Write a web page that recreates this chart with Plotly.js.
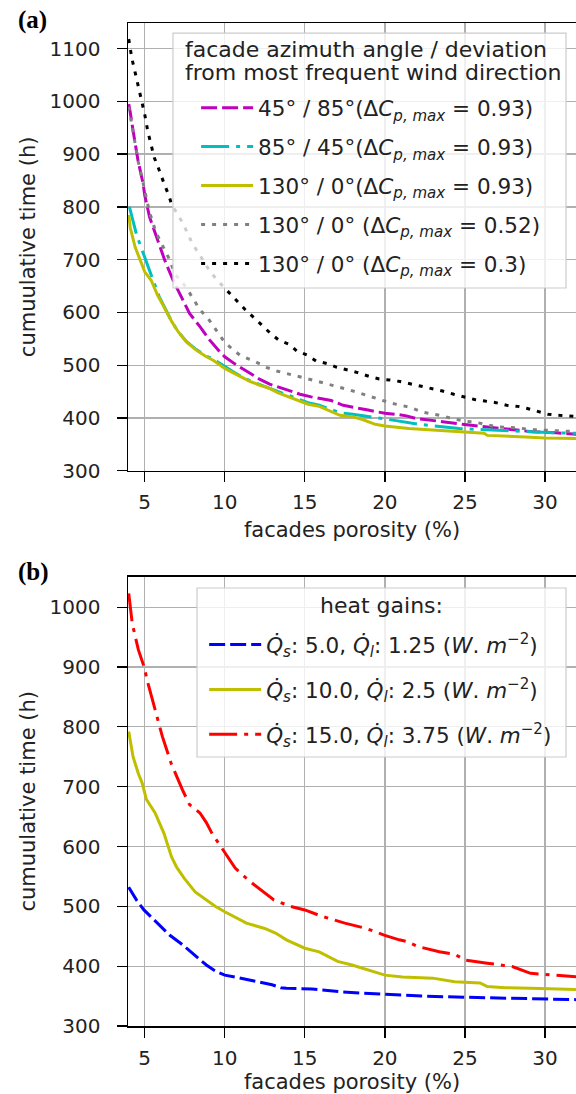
<!DOCTYPE html>
<html>
<head>
<meta charset="utf-8">
<script src="https://cdn.plot.ly/plotly-3.0.1.min.js"></script>
<style>html,body{margin:0;padding:0;background:#fff;overflow:hidden;}#chart{width:576px;height:1094px;}</style>
</head>
<body>
<div id="chart"></div>
<script>
// ---------- Panel (a): facade azimuth / deviation ----------
const xA_45_85 = [4.0,4.06,4.27,4.58,4.9,5.0,5.3,5.73,6.25,6.77,7.3,7.8,8.45,9.05,9.7,10.0,10.6,11.1,11.65,12.2,12.8,13.45,14.05,14.7,15.4,16.05,16.65,17.4,18.2,18.95,19.45,20.0,20.7,21.35,21.95,22.6,23.6,24.85,26.3,27.8,29.2,30.7,32.0];
const yA_45_85 = [995,986,945,888,844,822,781,743,699,661,630,598,573,548,525,516,503,494,484,473,464,458,451,445,440,437,433,424,420,415,412,409,407,404,399,397,393,388,383,378,374,372,369];

const xA_85_45 = [4.0,4.06,4.5,4.8,5.2,5.6,5.9,6.3,6.7,7.1,7.6,8.2,8.8,9.3,10.0,10.5,11.0,11.6,12.2,12.8,13.3,14.3,15.2,15.9,16.7,17.2,18.0,18.7,19.45,20.7,22.15,23.5,24.65,26.0,27.35,29.2,30.5,32.0];
const yA_85_45 = [800,798,746,721,686,655,630,606,582,563,545,530,518,511,497,488,479,470,463,456,450,439,429,424,416,410,407,404,401,395,388,383,380,378,376,374,372,371];

const xA_130_093 = [4.0,4.1,4.4,4.7,5.0,5.4,5.8,6.25,6.7,7.1,7.6,8.2,8.8,9.3,10.0,10.5,11.0,11.6,12.2,12.8,13.3,14.3,15.2,15.9,16.7,17.2,18.0,18.6,19.4,20.0,21.5,22.5,23.5,24.6,25.5,26.2,26.4,27.5,28.8,30.0,32.0];
const yA_130_093 = [785,760,724,699,677,661,633,608,582,563,544,529,517,509,494,486,478,469,462,456,448,437,426,422,412,405,402,397,388,385,380,378,376,374,372,371,367,365,364,362,361];

const xA_130_052 = [4.0,4.3,4.6,4.9,5.3,5.7,6.15,6.5,6.9,7.4,7.8,8.45,8.95,9.5,10.0,10.5,10.95,11.95,12.6,13.25,13.85,14.5,15.2,15.85,16.5,17.15,17.8,18.45,19.1,19.75,20.4,21.0,21.6,22.35,23.0,23.6,24.3,25.0,25.65,26.3,27.0,27.7,28.4,29.1,29.85,30.7,32.0];
const yA_130_052 = [990,935,885,845,790,752,725,703,672,655,637,605,589,566,543,530,519,506,496,489,484,479,474,469,464,459,453,447,441,434,428,424,420,411,407,404,398,394,392,387,383,382,381,378,377,376,374];

const xA_130_03 = [4.0,4.2,4.4,4.6,4.8,5.0,5.2,5.4,5.6,5.8,6.0,6.25,6.5,6.7,7.1,7.45,7.7,8.0,8.35,8.7,9.05,9.5,10.0,10.5,10.85,11.35,11.9,12.4,12.9,13.4,14.0,14.5,15.15,15.7,16.4,17.0,17.65,18.3,19.0,19.65,20.3,20.95,21.7,22.3,23.0,23.6,24.3,24.95,25.6,26.25,26.95,27.6,28.3,28.9,29.6,30.2,30.9,32.0];
const yA_130_03 = [1118,1081,1055,1030,1001,975,942,915,893,878,860,841,822,803,784,765,748,729,713,696,679,662,646,630,617,603,588,573,559,547,540,527,519,508,503,496,491,486,479,474,472,469,464,460,456,451,445,440,435,432,429,424,422,418,412,407,405,403];

const namesA = [
  "45° / 85°(Δ<i>C</i><sub><i>p, max</i></sub> = 0.93)",
  "85° / 45°(Δ<i>C</i><sub><i>p, max</i></sub> = 0.93)",
  "130° / 0°(Δ<i>C</i><sub><i>p, max</i></sub> = 0.93)",
  "130° / 0° (Δ<i>C</i><sub><i>p, max</i></sub> = 0.52)",
  "130° / 0° (Δ<i>C</i><sub><i>p, max</i></sub> = 0.3)"
];
const legendTitleA = ["facade azimuth angle / deviation", "from most frequent wind direction"];

// ---------- Panel (b): heat gains ----------
const xB_5 = [4.0,4.5,4.95,5.65,6.55,7.3,7.9,8.4,8.85,9.4,10.0,10.8,11.6,12.3,12.95,13.5,13.85,15.45,16.5,17.3,18.6,20.0,21.2,22.3,25.0,28.0,30.0,32.0];
const yB_5 = [532,510,494,475,452,437,424,412,402,392,385,381,377,373,369,364,363,362,359,357,355,353,351,350,348,346,345,344];

const xB_10 = [4.0,4.27,4.6,4.84,5.1,5.65,6.2,6.67,7.0,7.46,8.15,8.85,9.4,10.0,10.7,11.35,12.5,13.2,13.85,14.5,15.0,15.9,16.4,17.05,17.95,18.9,19.55,20.0,21.1,23.0,24.35,25.95,26.4,27.5,29.1,30.5,32.0];
const yB_10 = [792,750,722,706,679,656,622,583,565,547,524,510,500,491,481,472,463,455,444,436,430,424,417,408,402,394,388,385,382,380,374,372,366,364,363,362,361];

const xB_15 = [4.0,4.22,4.6,4.95,5.2,5.65,6.1,6.65,7.35,7.8,8.45,8.85,9.2,9.95,10.65,11.55,12.25,13.05,14.1,15.0,16.1,17.5,18.85,19.95,20.9,21.4,22.05,23.4,24.35,25.05,26.4,28.0,29.1,30.3,32.0];
const yB_15 = [1023,973,929,901,873,828,784,739,695,670,656,640,622,592,564,542,528,511,500,494,483,472,463,452,444,441,433,424,420,410,405,399,388,385,382];

const namesB = [
  "<i>Q̇</i><sub><i>s</i></sub>: 5.0, <i>Q̇</i><sub><i>l</i></sub>: 1.25 (<i>W</i>. <i>m</i><sup>−2</sup>)",
  "<i>Q̇</i><sub><i>s</i></sub>: 10.0, <i>Q̇</i><sub><i>l</i></sub>: 2.5 (<i>W</i>. <i>m</i><sup>−2</sup>)",
  "<i>Q̇</i><sub><i>s</i></sub>: 15.0, <i>Q̇</i><sub><i>l</i></sub>: 3.75 (<i>W</i>. <i>m</i><sup>−2</sup>)"
];
const legendTitleB = "heat gains:";

const xTicks = [5,10,15,20,25,30];
const yTicksA = [300,400,500,600,700,800,900,1000,1100];
const yTicksB = [300,400,500,600,700,800,900,1000];
const xTitle = "facades porosity (%)";
const yTitle = "cumuulative time (h)";

// ---------- styling ----------
const FONT = "DejaVu Sans, sans-serif";
const LW = 3;
const DASH = "16px,5px";
const DASHDOT = "28px,7px,4px,7px";
const DOT = "4px,7px";

function tr(x, y, name, color, dash, xa, ya, leg, grp) {
  return {x: x, y: y, name: name, type: "scatter", mode: "lines",
    line: {color: color, width: LW, dash: dash},
    xaxis: xa, yaxis: ya, legend: leg, legendgroup: grp, hoverinfo: "skip"};
}

const data = [
  tr(xA_45_85, yA_45_85, namesA[0], "#bf00bf", DASH, "x", "y", "legend", "a1"),
  tr(xA_85_45, yA_85_45, namesA[1], "#00bfbf", DASHDOT, "x", "y", "legend", "a2"),
  tr(xA_130_093, yA_130_093, namesA[2], "#bfbf00", "solid", "x", "y", "legend", "a3"),
  tr(xA_130_052, yA_130_052, namesA[3], "#808080", DOT, "x", "y", "legend", "a4"),
  tr(xA_130_03, yA_130_03, namesA[4], "#000000", DOT, "x", "y", "legend", "a5"),
  tr(xB_5, yB_5, namesB[0], "#0000ff", DASH, "x2", "y2", "legend2", "b1"),
  tr(xB_10, yB_10, namesB[1], "#bfbf00", "solid", "x2", "y2", "legend2", "b2"),
  tr(xB_15, yB_15, namesB[2], "#ff0000", DASHDOT, "x2", "y2", "legend2", "b3")
];

const TXT = "#222";
const tickFont = {family: FONT, size: 20, color: TXT};
const titleFont = {family: FONT, size: 21, color: TXT};

function xAx(anchor) {
  return {anchor: anchor, domain: [0,1], range: [3.955, 31.94], tickvals: xTicks,
    ticks: "outside", ticklen: 10, tickwidth: 1.3, tickcolor: "#000", ticklabelstandoff: 3,
    showline: true, linecolor: "#000", linewidth: 1.5, mirror: true,
    showgrid: true, gridcolor: "#b0b0b0", gridwidth: 1.3, zeroline: false,
    tickfont: tickFont, automargin: false,
    title: {text: xTitle, font: titleFont, standoff: 9}};
}
function yAx(anchor, domain, range, ticks) {
  return {anchor: anchor, domain: domain, range: range, tickvals: ticks,
    ticks: "outside", ticklen: 10, tickwidth: 1.3, tickcolor: "#000", ticklabelstandoff: 12,
    showline: true, linecolor: "#000", linewidth: 1.5, mirror: false,
    showgrid: true, gridcolor: "#b0b0b0", gridwidth: 1.3, zeroline: false,
    tickfont: tickFont, automargin: false,
    title: {text: yTitle, font: titleFont, standoff: 8}};
}

const legendCommon = {
  bgcolor: "rgba(0,0,0,0)", borderwidth: 0,
  font: {family: FONT, size: 21.5, color: TXT}, itemwidth: 52,
  xref: "paper", yref: "paper", xanchor: "left", yanchor: "top",
  itemclick: false
};

// legend frame boxes (pixel-derived paper fractions)
function box(x0, x1, y0, y1) {
  return {type: "rect", xref: "paper", yref: "paper", x0: x0, x1: x1, y0: y0, y1: y1,
    layer: "above", fillcolor: "rgba(255,255,255,0.8)", line: {color: "#cccccc", width: 1.2}};
}
function note(text, x, y, xanchor, font) {
  return {text: text, xref: "paper", yref: "paper", x: x, y: y, xanchor: xanchor, yanchor: "middle",
    showarrow: false, font: font};
}
const legTitleFont = {family: FONT, size: 22, color: TXT};
const panelFont = {family: "Liberation Serif, serif", size: 25, color: "#000"};

const layout = {
  width: 576, height: 1094,
  margin: {l: 128, r: 0, t: 23, b: 68},
  paper_bgcolor: "#fff", plot_bgcolor: "#fff",
  showlegend: true,
  xaxis: xAx("y"),
  yaxis: yAx("x", [0.5536, 1], [300, 1148.5], yTicksA),
  xaxis2: xAx("y2"),
  yaxis2: yAx("x2", [0, 0.448], [300, 1051], yTicksB),
  legend: Object.assign({}, legendCommon, {x: 0.152, y: 0.936, tracegroupgap: 8}),
  legend2: Object.assign({}, legendCommon, {x: 0.170, y: 0.4008, tracegroupgap: 14}),
  shapes: [
    box(0.1004, 0.9777, 0.7358, 0.990),
    box(0.154, 0.9777, 0.2682, 0.4367)
  ],
  annotations: [
    note(legendTitleA[0], 0.1228, 0.9731, "left", legTitleFont),
    note(legendTitleA[1], 0.1228, 0.9502, "left", legTitleFont),
    note(legendTitleB, 0.5658, 0.4197, "center", legTitleFont),
    note("<b>(a)</b>", -0.25, 1.003, "left", panelFont),
    note("<b>(b)</b>", -0.25, 0.4527, "left", panelFont)
  ]
};

Plotly.newPlot("chart", data, layout, {displayModeBar: false, staticPlot: true});
</script>
</body>
</html>
